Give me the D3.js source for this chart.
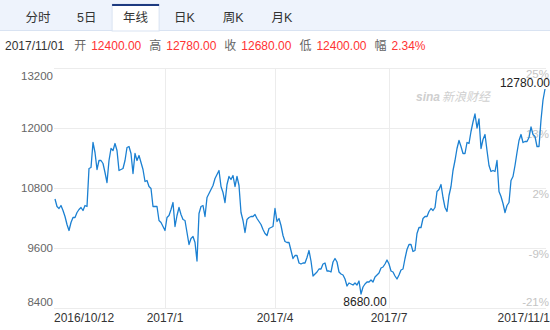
<!DOCTYPE html>
<html>
<head>
<meta charset="utf-8">
<script src="https://cdn.jsdelivr.net/npm/d3@7"></script>
<style>
  body { margin: 0; background: #fff; }
  svg { display: block; font-family: "Liberation Sans", Arial, "Noto Sans CJK SC", sans-serif; }
</style>
</head>
<body>
<svg id="chart" width="550" height="330"></svg>
<script>
// tabs and header
const tabs = ["分时", "5日", "年线", "日K", "周K", "月K"];
const activeTab = "年线";
const infoDate = "2017/11/01";
const infoLabels = ["开", "高", "收", "低", "幅"];
const infoValues = ["12400.00", "12780.00", "12680.00", "12400.00", "2.34%"];

// daily closes, 2016/10/12 .. 2017/11/01
const prices = [
  10580, 10430, 10390, 10450, 10350, 10230, 10070, 9950, 10110, 10210,
  10210, 10310, 10370, 10410, 10350, 10450, 10430, 11190, 11210, 11710,
  11510, 11170, 11350, 11350, 11290, 11110, 10910, 11350, 11590, 11550,
  11690, 11550, 11150, 11170, 11190, 11350, 11610, 11630, 11490, 11090,
  11490, 11350, 11450, 11310, 11170, 10930, 10950, 10830, 10790, 10430,
  10430, 10430, 10150, 10110, 10030, 9950, 10210, 10250, 10370, 10510,
  10030, 10250, 10410, 10270, 10170, 10150, 9910, 9670, 9790, 9830,
  9710, 9340, 10290, 10430, 10450, 10230, 10610, 10690, 10770, 10850,
  10990, 11070, 11150, 10830, 10710, 10510, 10870, 11030, 10970, 11050,
  10830, 11030, 10850, 10310, 10150, 9910, 10170, 10210, 10230, 10230,
  10270, 10190, 10130, 10070, 9970, 9890, 9850, 9990, 10010, 10030,
  10390, 10130, 10190, 10050, 9850, 9730, 9710, 9710, 9550, 9390,
  9450, 9450, 9300, 9280, 9300, 9300, 9410, 9550, 9340, 9040,
  9080, 9120, 9180, 9180, 9280, 9300, 9140, 9140, 9120, 9320,
  9390, 9320, 9120, 9080, 9060, 8980, 8840, 8900, 8880, 8860,
  8900, 8860, 8940, 8680, 8820, 8880, 8920, 8920, 8960, 8920,
  9020, 9060, 9100, 9200, 9220, 9280, 9360, 9280, 9140, 9120,
  9040, 8980, 9060, 9160, 9180, 9390, 9570, 9670, 9670, 9530,
  9550, 9890, 10010, 10010, 10190, 10230, 10230, 10330, 10390, 10350,
  10410, 10730, 10770, 10870, 10610, 10410, 10330, 10650, 10830, 11150,
  11350, 11590, 11750, 11630, 11490, 11490, 11710, 11690, 11930, 12120,
  12280, 12000, 12180, 11590, 11770, 11870, 11550, 11250, 11130, 11150,
  11130, 11350, 10730, 10630, 10490, 10310, 10450, 10510, 10950, 11030,
  11250, 11510, 11750, 11870, 11710, 11730, 11730, 11810, 12020, 11870,
  11830, 11630, 11630, 12160, 12560, 12780
];

const yTicks = [13200, 12000, 10800, 9600, 8400];
const xTickIndex = [0, 55, 110, 167, 245];
const xTickLabels = ["2016/10/12", "2017/1", "2017/4", "2017/7", "2017/11/1"];

const svg = d3.select("#chart");

// tab bar
svg.append("rect").attr("width", 550).attr("height", 30).attr("fill", "#eef3fc");
svg.append("line")
  .attr("x1", 0).attr("x2", 550).attr("y1", 30.5).attr("y2", 30.5)
  .attr("stroke", "#d9e3f2");

const tabX = d3.scaleLinear().domain([0, tabs.length - 1]).range([38, 282]);
const ai = tabs.indexOf(activeTab);
svg.append("rect")
  .attr("x", tabX(ai) - 23.5).attr("y", 4).attr("width", 47).attr("height", 27)
  .attr("fill", "#fff").attr("stroke", "#d9e3f2");
svg.append("rect")
  .attr("x", tabX(ai) - 23.5).attr("y", 4).attr("width", 47).attr("height", 2)
  .attr("fill", "#1d3a80");

svg.selectAll(".tab")
  .data(tabs)
  .enter()
  .append("text")
  .attr("x", (d, i) => tabX(i))
  .attr("y", 22)
  .attr("text-anchor", "middle")
  .style("font-size", "12.5px")
  .attr("fill", "#333")
  .text(d => d);

// info row
let cx = 5;
const info = svg.append("g");
const dateText = info.append("text")
  .attr("x", cx).attr("y", 50).style("font-size", "12px").attr("fill", "#333").text(infoDate);
cx += dateText.node().getComputedTextLength() + 10;
infoLabels.forEach((lab, i) => {
  const t1 = info.append("text")
    .attr("x", cx).attr("y", 50).style("font-size", "12px").attr("fill", "#666").text(lab);
  cx += t1.node().getComputedTextLength() + 5;
  const t2 = info.append("text")
    .attr("x", cx).attr("y", 50).style("font-size", "12px").attr("fill", "#f33").text(infoValues[i]);
  cx += t2.node().getComputedTextLength() + 8;
});

// scales
const left = 54, right = 546;
const x = d3.scaleLinear().domain([0, prices.length - 1]).range([55, 545]);
const y = d3.scaleLinear().domain([8400, 13200]).range([308, 68]);
const base = prices[0];

// gridlines
svg.selectAll(".hgrid")
  .data(yTicks)
  .enter()
  .append("line")
  .attr("x1", left).attr("x2", right)
  .attr("y1", d => Math.round(y(d)) + 0.5).attr("y2", d => Math.round(y(d)) + 0.5)
  .attr("stroke", "#ececec");

svg.selectAll(".vgrid")
  .data(xTickIndex.slice(1, -1))
  .enter()
  .append("line")
  .attr("x1", d => Math.round(x(d)) + 0.5).attr("x2", d => Math.round(x(d)) + 0.5)
  .attr("y1", 68).attr("y2", 308)
  .attr("stroke", "#ececec");

// left labels
const shift = (i, n) => (i === 0 ? 8 : i === n - 1 ? -6 : 0);
svg.selectAll(".ylab")
  .data(yTicks)
  .enter()
  .append("text")
  .attr("x", 53)
  .attr("y", (d, i) => y(d) + shift(i, yTicks.length) + 4)
  .attr("text-anchor", "end")
  .style("font-size", "11.5px")
  .attr("fill", "#666")
  .text(d => d);

// right percent labels
svg.selectAll(".plab")
  .data(yTicks)
  .enter()
  .append("text")
  .attr("x", 549)
  .attr("y", (d, i) => y(d) + (i === yTicks.length - 1 ? -6 : 6) + 4)
  .attr("text-anchor", "end")
  .style("font-size", "11.5px")
  .attr("fill", "#c4c4c4")
  .text(d => Math.round((d / base - 1) * 100) + "%");

// x labels
svg.selectAll(".xlab")
  .data(xTickIndex)
  .enter()
  .append("text")
  .attr("x", (d, i) => i === 0 ? left : i === xTickIndex.length - 1 ? 550 : x(d))
  .attr("y", 322)
  .attr("text-anchor", (d, i) => i === 0 ? "start" : i === xTickIndex.length - 1 ? "end" : "middle")
  .style("font-size", "12px")
  .attr("fill", "#333")
  .text((d, i) => xTickLabels[i]);

// watermark
const wm = svg.append("text")
  .attr("x", 416).attr("y", 101)
  .attr("fill", "#cfcfcf")
  .style("font-style", "italic");
wm.append("tspan").style("font-size", "12px").style("font-weight", "bold").text("sina");
wm.append("tspan").attr("dx", 2).style("font-size", "12px").text("新浪财经");

// price line
const line = d3.line()
  .x((d, i) => x(i))
  .y(d => y(d));

svg.append("path")
  .datum(prices)
  .attr("d", line)
  .attr("fill", "none")
  .attr("stroke", "#1b80d2")
  .attr("stroke-width", 1.3)
  .attr("stroke-linejoin", "round");

// max / min labels
const maxV = d3.max(prices), minV = d3.min(prices);
const minI = prices.indexOf(minV);
svg.append("text")
  .attr("x", 550).attr("y", 87)
  .attr("text-anchor", "end")
  .style("font-size", "12px")
  .attr("fill", "#222")
  .text(maxV.toFixed(2));
svg.append("text")
  .attr("x", x(minI) + 4).attr("y", 306)
  .attr("text-anchor", "middle")
  .style("font-size", "12px")
  .attr("fill", "#222")
  .text(minV.toFixed(2));
</script>
</body>
</html>
